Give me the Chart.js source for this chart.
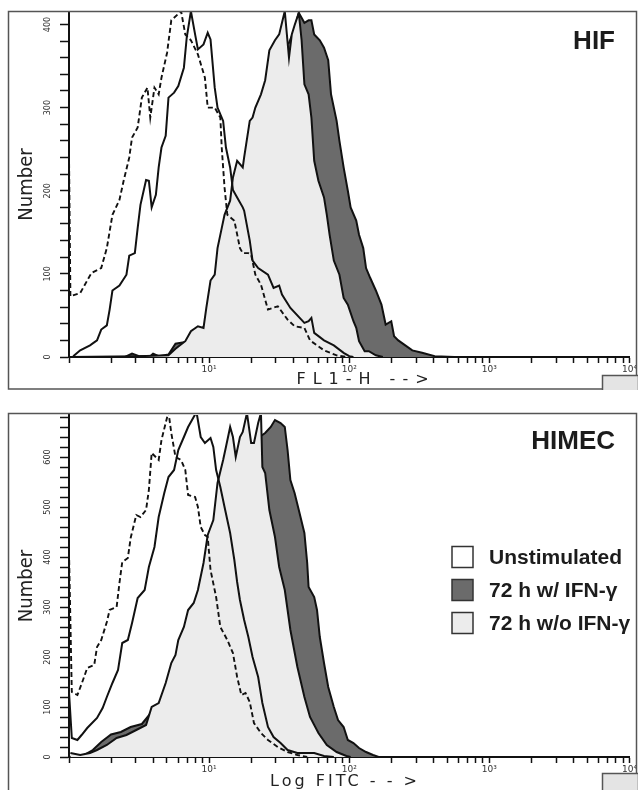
<!DOCTYPE html>
<html>
<head>
<meta charset="utf-8">
<script src="https://cdn.jsdelivr.net/npm/chart.js@4.4.1/dist/chart.umd.min.js"></script>
<style>
  body { margin: 0; background: #fff; width: 638px; height: 790px; overflow: hidden; }
  .panel { position: absolute; left: 0; width: 638px; }
  #top { top: 0; height: 390px; }
  #bottom { top: 390px; height: 400px; }
</style>
</head>
<body>
<div class="panel" id="top"><canvas id="hif"></canvas></div>
<div class="panel" id="bottom"><canvas id="himec"></canvas></div>
<script>
// FL1 intensity given in decades (0 = 10^0 ... 4 = 10^4), counts = cells per channel

// --- HIF ---
const hifControl = [[0,243],[0.01,73],[0.08,77],[0.16,101],[0.23,107],[0.27,131],[0.31,171],[0.36,189],[0.39,212],
  [0.43,240],[0.45,264],[0.49,276],[0.52,312],[0.56,324],[0.58,288],[0.61,324],[0.64,316],[0.66,336],[0.70,366],
  [0.73,405],[0.80,416],[0.83,388],[0.87,381],[0.92,364],[0.97,336],[0.99,300],[1.04,300],[1.08,288],[1.09,252],
  [1.11,204],[1.13,171],[1.18,164],[1.22,131],[1.24,125],[1.28,125],[1.30,123],[1.33,99],[1.37,87],[1.42,57],
  [1.49,61],[1.56,45],[1.61,37],[1.68,35],[1.72,20],[1.82,8],[1.91,2],[1.98,0]];
const hifUnstim = [[0.03,1],[0.08,8],[0.15,14],[0.20,20],[0.23,33],[0.27,38],[0.29,57],[0.31,80],[0.36,86],[0.41,99],
  [0.43,122],[0.47,125],[0.49,155],[0.51,183],[0.55,213],[0.57,212],[0.59,180],[0.62,195],[0.64,228],[0.66,252],
  [0.69,266],[0.71,312],[0.75,318],[0.78,326],[0.82,348],[0.84,384],[0.87,416],[0.90,388],[0.92,370],[0.96,376],
  [0.99,390],[1.01,382],[1.04,324],[1.06,300],[1.10,284],[1.12,252],[1.15,228],[1.17,201],[1.20,192],[1.24,180],
  [1.25,176],[1.29,140],[1.31,116],[1.35,107],[1.42,99],[1.46,83],[1.50,86],[1.52,75],[1.58,59],[1.68,41],
  [1.71,43],[1.73,47],[1.75,29],[1.82,20],[1.89,14],[1.96,5],[2.00,1],[2.03,0]];
const hifNoIfn = [[0,0],[0.50,1],[0.71,2],[0.76,10],[0.83,19],[0.87,31],[0.92,37],[0.96,35],[0.98,59],[1.01,92],
  [1.04,99],[1.06,131],[1.09,155],[1.11,171],[1.15,188],[1.17,216],[1.20,236],[1.24,228],[1.25,240],[1.29,284],
  [1.31,288],[1.33,300],[1.37,316],[1.40,333],[1.43,369],[1.47,381],[1.50,388],[1.52,402],[1.54,416],[1.57,360],
  [1.59,388],[1.61,399],[1.64,414],[1.66,381],[1.68,328],[1.71,316],[1.73,288],[1.75,236],[1.78,212],[1.82,192],
  [1.84,171],[1.86,147],[1.89,116],[1.93,99],[1.96,71],[1.99,63],[2.03,43],[2.05,35],[2.07,19],[2.11,7],[2.14,7],
  [2.19,2],[2.24,0]];
const hifIfn = [[0,0],[0.40,0],[0.45,4],[0.50,1],[0.58,1],[0.60,4],[0.64,1],[0.71,3],[0.76,16],[0.83,18],[0.90,15],
  [0.92,25],[0.99,45],[1.06,90],[1.13,140],[1.20,190],[1.27,230],[1.35,270],[1.42,310],[1.49,350],[1.54,375],
  [1.57,378],[1.61,395],[1.64,414],[1.68,402],[1.71,405],[1.73,405],[1.75,388],[1.79,381],[1.82,372],[1.85,357],
  [1.87,316],[1.91,284],[1.93,260],[1.96,228],[1.99,200],[2.01,180],[2.05,164],[2.07,147],[2.10,131],[2.12,107],
  [2.15,95],[2.19,80],[2.23,63],[2.26,39],[2.30,43],[2.32,25],[2.35,20],[2.40,14],[2.45,8],[2.52,5],[2.61,1],[2.75,0]];

// --- HIMEC ---
const himecControl = [[0,410],[0.02,130],[0.06,124],[0.10,154],[0.13,178],[0.18,184],[0.20,220],[0.23,234],[0.27,270],
  [0.29,294],[0.34,300],[0.36,348],[0.38,390],[0.42,398],[0.44,438],[0.48,484],[0.51,480],[0.55,494],[0.57,534],
  [0.59,608],[0.64,594],[0.66,634],[0.69,668],[0.71,690],[0.73,648],[0.76,600],[0.80,594],[0.83,574],[0.85,524],
  [0.90,520],[0.92,500],[0.94,460],[0.97,444],[0.99,440],[1.01,374],[1.05,320],[1.08,260],[1.13,234],[1.17,208],
  [1.20,160],[1.23,124],[1.26,128],[1.29,110],[1.32,68],[1.37,48],[1.42,34],[1.49,20],[1.56,10],[1.63,4],[1.70,0]];
const himecUnstim = [[0,130],[0.02,38],[0.06,34],[0.09,44],[0.13,58],[0.20,78],[0.24,98],[0.27,120],[0.31,148],
  [0.35,174],[0.38,228],[0.42,234],[0.45,268],[0.49,318],[0.54,334],[0.57,380],[0.61,420],[0.64,480],[0.68,528],
  [0.71,560],[0.75,574],[0.78,614],[0.82,640],[0.85,660],[0.89,680],[0.91,690],[0.94,640],[0.97,628],[1.01,638],
  [1.03,620],[1.05,574],[1.08,540],[1.11,500],[1.15,448],[1.18,394],[1.20,350],[1.22,314],[1.25,274],[1.28,240],
  [1.31,200],[1.35,160],[1.38,108],[1.42,60],[1.46,40],[1.51,28],[1.56,14],[1.63,8],[1.75,8],[1.82,2],[1.89,0]];
const himecNoIfn = [[0.01,8],[0.08,4],[0.15,8],[0.20,14],[0.27,24],[0.34,38],[0.41,44],[0.48,54],[0.55,64],[0.59,100],
  [0.64,108],[0.69,148],[0.73,188],[0.76,204],[0.78,234],[0.82,260],[0.85,294],[0.89,308],[0.92,334],[0.96,388],
  [0.99,444],[1.03,474],[1.06,548],[1.10,594],[1.12,620],[1.15,660],[1.17,640],[1.19,600],[1.22,640],[1.24,650],
  [1.27,688],[1.30,628],[1.32,628],[1.35,668],[1.37,688],[1.38,580],[1.40,568],[1.43,494],[1.47,440],[1.50,380],
  [1.54,334],[1.58,254],[1.63,180],[1.68,120],[1.72,80],[1.78,48],[1.84,24],[1.91,10],[1.98,2],[2.01,0]];
const himecIfn = [[0,0],[0.10,3],[0.17,14],[0.23,30],[0.30,45],[0.37,50],[0.44,60],[0.52,66],[0.59,90],[0.66,112],
  [0.73,170],[0.80,220],[0.87,270],[0.94,320],[1.01,420],[1.08,500],[1.15,560],[1.22,600],[1.29,615],[1.33,625],
  [1.37,642],[1.40,648],[1.44,660],[1.47,674],[1.51,668],[1.54,660],[1.56,614],[1.58,554],[1.61,528],[1.64,494],
  [1.68,448],[1.70,388],[1.71,340],[1.75,320],[1.77,294],[1.79,240],[1.82,188],[1.85,140],[1.89,100],[1.92,74],
  [1.96,60],[1.99,34],[2.03,28],[2.07,18],[2.12,10],[2.17,4],[2.21,0]];

const seriesNames = ['Unstimulated', '72 h w/ IFN-\u03b3', '72 h w/o IFN-\u03b3'];
const decadeLabels = { 10: '10\u00b9', 100: '10\u00b2', 1000: '10\u00b3', 10000: '10\u2074' };
const decades = [1, 10, 100, 1000];

// log ticks: 1..9 in every decade plus the top end
const xTickValues = [];
decades.forEach(d => { for (let k = 1; k <= 9; k++) xTickValues.push(k * d); });
xTickValues.push(10000);

const DARK = '#6b6b6b';
const LIGHT = '#ececec';
const INK = '#111';

function toXY(pairs) {
  return pairs.map(p => ({ x: Math.pow(10, p[0]), y: p[1] }));
}

function histDatasets(ctl, unstim, noIfn, ifn) {
  return [
    { label: 'Control', data: toXY(ctl), borderColor: INK, borderWidth: 1.9, borderDash: [5, 3], fill: false, order: 0 },
    { label: seriesNames[0], data: toXY(unstim), borderColor: INK, borderWidth: 2, fill: false, order: 1, legendFill: '#ffffff' },
    { label: seriesNames[2], data: toXY(noIfn), borderColor: INK, borderWidth: 2, backgroundColor: LIGHT, fill: 'origin', order: 2, legendFill: LIGHT },
    { label: seriesNames[1], data: toXY(ifn), borderColor: INK, borderWidth: 2, backgroundColor: DARK, fill: 'origin', order: 3, legendFill: DARK }
  ];
}

// frame, corner block, panel name, spaced x title and the box legend
const panelDecor = {
  id: 'panelDecor',
  afterDraw(chart, args, o) {
    const ctx = chart.ctx;
    ctx.save();
    ctx.strokeStyle = '#555';
    ctx.lineWidth = 1.5;
    ctx.strokeRect(o.frame[0], o.frame[1], o.frame[2], o.frame[3]);

    ctx.fillStyle = '#e4e4e4';
    ctx.fillRect(o.block[0], o.block[1], o.block[2], o.block[3]);
    ctx.strokeRect(o.block[0], o.block[1], o.block[2], o.block[3]);

    ctx.fillStyle = '#1c1c1c';
    ctx.font = 'bold 26px "Liberation Sans", Arial, sans-serif';
    ctx.textAlign = 'right';
    ctx.textBaseline = 'middle';
    ctx.fillText(o.name, 615, o.nameY);

    ctx.fillStyle = '#222';
    ctx.font = '16px "DejaVu Sans", sans-serif';
    ctx.letterSpacing = o.xTitleSpacing + 'px';
    ctx.textAlign = 'center';
    ctx.fillText(o.xTitle, o.xTitleX, o.xTitleY);
    ctx.letterSpacing = '0px';

    if (o.legend) {
      const items = chart.data.datasets
        .filter(ds => ds.legendFill)
        .sort((a, b) => seriesNames.indexOf(a.label) - seriesNames.indexOf(b.label));
      ctx.font = 'bold 21px "Liberation Sans", Arial, sans-serif';
      ctx.textAlign = 'left';
      items.forEach((ds, i) => {
        const cy = o.legend.y + i * 33;
        ctx.fillStyle = ds.legendFill;
        ctx.fillRect(o.legend.x, cy - 10.5, 21, 21);
        ctx.strokeStyle = '#333';
        ctx.lineWidth = 1.5;
        ctx.strokeRect(o.legend.x, cy - 10.5, 21, 21);
        ctx.fillStyle = '#1c1c1c';
        ctx.fillText(ds.label, o.legend.x + 37, cy + 1);
      });
    }
    ctx.restore();
  }
};

function makeChart(id, datasets, yMax, padTop, decor) {
  return new Chart(document.getElementById(id), {
    type: 'line',
    data: { datasets: datasets },
    options: {
      responsive: true,
      maintainAspectRatio: false,
      animation: false,
      elements: { point: { radius: 0 }, line: { tension: 0 } },
      layout: { padding: { left: 0, right: 1, top: padTop, bottom: 0 } },
      plugins: {
        legend: { display: false },
        tooltip: { enabled: false },
        panelDecor: decor
      },
      scales: {
        x: {
          type: 'logarithmic',
          min: 1,
          max: 10000,
          afterBuildTicks: s => { s.ticks = xTickValues.map(v => ({ value: v })); },
          afterFit: s => { s.height = 33; },
          grid: { drawOnChartArea: false, tickLength: 6, tickColor: INK, tickWidth: 1.5 },
          border: { color: INK, width: 2 },
          ticks: {
            autoSkip: false, maxRotation: 0, minRotation: 0, padding: 1, color: '#333',
            font: { size: 9, family: '"DejaVu Sans", sans-serif' },
            callback: v => decadeLabels[v] || ''
          }
        },
        y: {
          min: 0,
          max: yMax,
          afterFit: s => { s.width = 69; },
          grid: { drawOnChartArea: false, tickLength: 9, tickColor: INK, tickWidth: 1.5 },
          border: { color: INK, width: 2 },
          ticks: {
            stepSize: 20, includeBounds: false, autoSkip: false, minRotation: 90, maxRotation: 90,
            crossAlign: 'center', padding: 5, color: '#333',
            font: { size: 9, family: '"DejaVu Sans Condensed", "DejaVu Sans", sans-serif' },
            callback: v => (v % 100 === 0 ? String(v) : '')
          },
          title: {
            display: true, text: 'Number', color: '#222',
            font: { size: 20, family: '"DejaVu Sans Condensed", "DejaVu Sans", sans-serif' },
            padding: { top: 15, bottom: 0 }
          }
        }
      }
    },
    plugins: [panelDecor]
  });
}

makeChart('hif', histDatasets(hifControl, hifUnstim, hifNoIfn, hifIfn), 415, 12, {
  frame: [8.5, 11.5, 628, 377.5],
  block: [602.5, 375.5, 36, 16],
  name: 'HIF', nameY: 42,
  xTitle: 'FL1-H -->', xTitleX: 366, xTitleY: 380, xTitleSpacing: 7
});

makeChart('himec', histDatasets(himecControl, himecUnstim, himecNoIfn, himecIfn), 684, 25, {
  frame: [8.5, 23.5, 628, 390],
  block: [602.5, 383.5, 36, 20],
  name: 'HIMEC', nameY: 52,
  xTitle: 'Log FITC - - >', xTitleX: 345, xTitleY: 392, xTitleSpacing: 3,
  legend: { x: 452, y: 167 }
});
</script>
</body>
</html>
